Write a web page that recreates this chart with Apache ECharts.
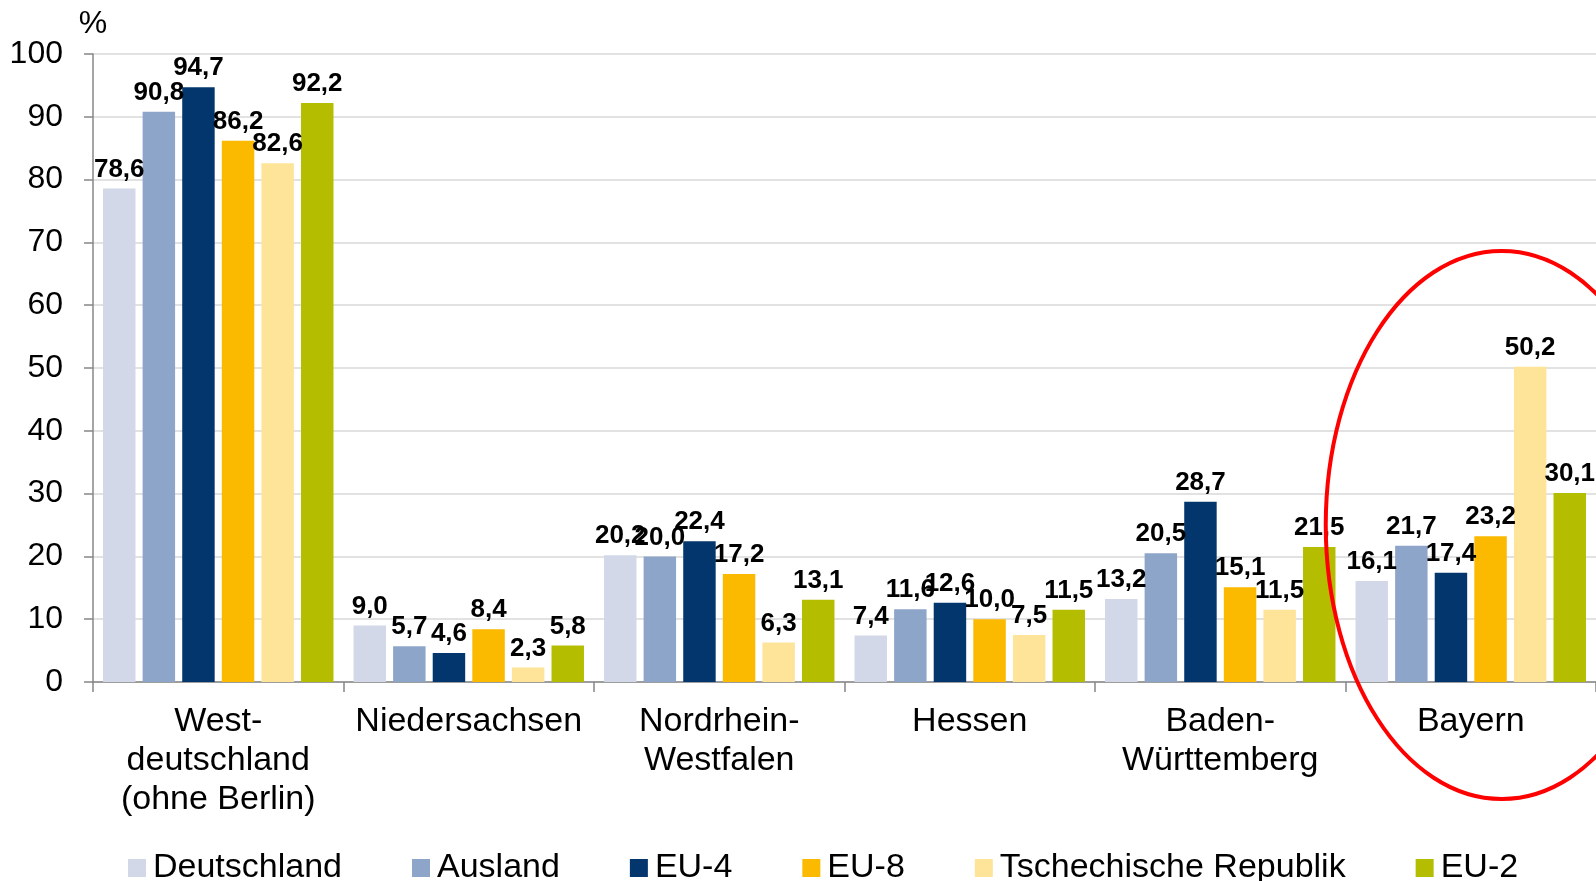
<!DOCTYPE html>
<html>
<head>
<meta charset="utf-8">
<title>Anteil nach Region</title>
<script src="https://cdn.jsdelivr.net/npm/echarts@6/dist/echarts.min.js"></script>
<style>
  html, body { margin: 0; padding: 0; background: #fff; }
  #chart { width: 1596px; height: 881px; }
</style>
</head>
<body>
<div id="chart"></div>
<script>
// Kategorien (Regionen)
const regions = ['West-\ndeutschland\n(ohne Berlin)', 'Niedersachsen', 'Nordrhein-\nWestfalen', 'Hessen', 'Baden-\nWürttemberg', 'Bayern']

// Werte in %
const deutschland = [78.6, 9.0, 20.2, 7.4, 13.2, 16.1]
const ausland = [90.8, 5.7, 20.0, 11.6, 20.5, 21.7]
const eu4 = [94.7, 4.6, 22.4, 12.6, 28.7, 17.4]
const eu8 = [86.2, 8.4, 17.2, 10.0, 15.1, 23.2]
const tschechien = [82.6, 2.3, 6.3, 7.5, 11.5, 50.2]
const eu2 = [92.2, 5.8, 13.1, 11.5, 21.5, 30.1]

const seriesNames = ['Deutschland', 'Ausland', 'EU-4', 'EU-8', 'Tschechische Republik', 'EU-2']
const seriesData = [deutschland, ausland, eu4, eu8, tschechien, eu2]
const colors = ['#d3d8e8', '#8ea5ca', '#02366c', '#fbb900', '#fde499', '#b5bd00']

const font = "'Liberation Sans', Arial, sans-serif"

const chart = echarts.init(document.getElementById('chart'))

const option = {
  animation: false,
  color: colors,
  grid: { left: 93, right: 0, top: 54, bottom: 199 },
  legend: {
    left: 123,
    top: 846,
    itemWidth: 18,
    itemHeight: 18,
    itemGap: 70,
    icon: 'rect',
    textStyle: { fontFamily: font, fontSize: 34, color: '#000', padding: [0, 0, 0, 2] },
    data: seriesNames
  },
  xAxis: {
    type: 'category',
    data: regions,
    axisLine: { lineStyle: { color: '#878787', width: 1.5 } },
    axisTick: { show: true, length: 10, lineStyle: { color: '#878787', width: 1.5 } },
    axisLabel: {
      interval: 0,
      margin: 20,
      fontFamily: font,
      fontSize: 34,
      lineHeight: 39,
      color: '#000'
    }
  },
  yAxis: {
    type: 'value',
    min: 0,
    max: 100,
    interval: 10,
    name: '%',
    nameLocation: 'end',
    nameGap: 14,
    nameTextStyle: { fontFamily: font, fontSize: 32, color: '#000', align: 'center' },
    axisLine: { show: true, lineStyle: { color: '#878787', width: 1.5 } },
    axisTick: { show: true, length: 9, lineStyle: { color: '#878787', width: 1.5 } },
    axisLabel: { margin: 30, fontFamily: font, fontSize: 32, color: '#000' },
    splitLine: { lineStyle: { color: '#d9d9d9', width: 1.5 } }
  },
  series: seriesNames.map((name, i) => ({
    name: name,
    type: 'bar',
    data: seriesData[i],
    barGap: '22%',
    barCategoryGap: '8%',
    label: {
      show: true,
      position: 'top',
      distance: 6,
      fontFamily: font,
      fontSize: 26,
      fontWeight: 'bold',
      color: '#000',
      formatter: (p) => p.value.toFixed(1).replace('.', ',')
    }
  }))
}

chart.setOption(option)

// rote Ellipse um Bayern
const bx = chart.convertToPixel({ xAxisIndex: 0 }, 'Bayern')
const by = chart.convertToPixel({ yAxisIndex: 0 }, 25)
chart.setOption({
  graphic: [{
    type: 'ellipse',
    z: 100,
    shape: { cx: bx + 31, cy: by, rx: 176, ry: 274 },
    style: { fill: 'none', stroke: '#ff0000', lineWidth: 4 }
  }]
})
</script>
</body>
</html>
